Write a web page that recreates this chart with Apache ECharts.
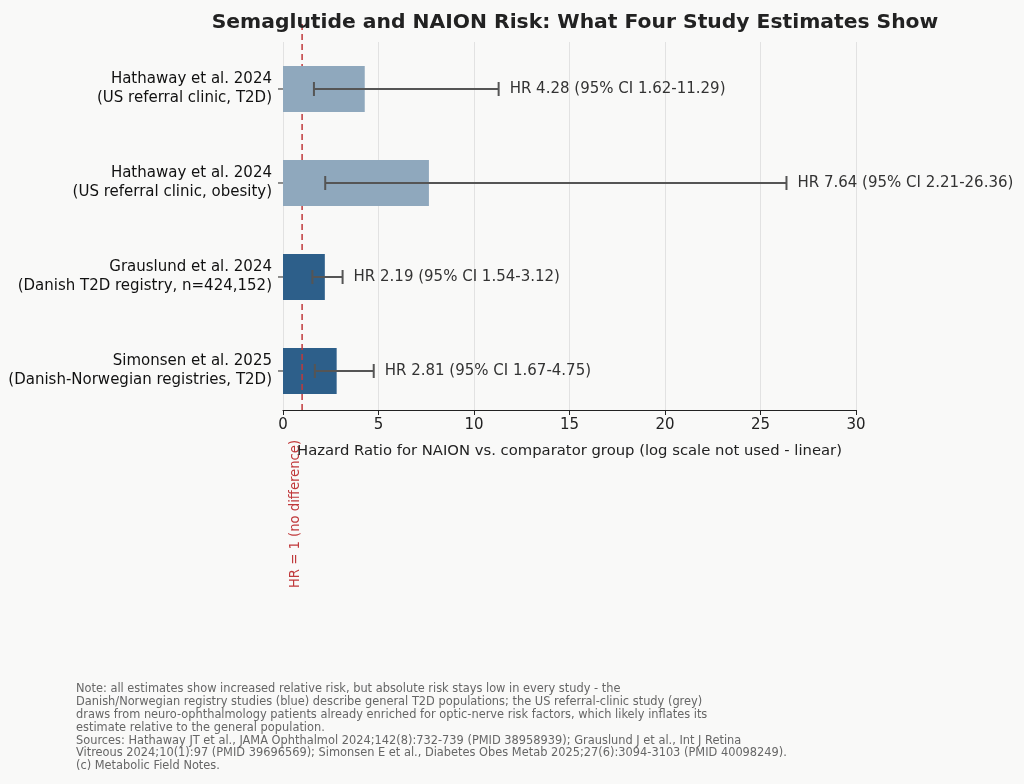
<!DOCTYPE html>
<html><head><meta charset="utf-8">
<script src="https://cdn.jsdelivr.net/npm/echarts@6/dist/echarts.min.js"></script>
<style>html,body{margin:0;background:#f9f9f8}#c{width:1024px;height:784px}</style>
</head><body><div id="c"></div>
<script>
const studies = ["Simonsen et al. 2025\n(Danish-Norwegian registries, T2D)","Grauslund et al. 2024\n(Danish T2D registry, n=424,152)","Hathaway et al. 2024\n(US referral clinic, obesity)","Hathaway et al. 2024\n(US referral clinic, T2D)"];
const hr = [2.81, 2.19, 7.64, 4.28];
const lower = [1.67, 1.54, 2.21, 1.62];
const upper = [4.75, 3.12, 26.36, 11.29];
const isRegistry = [true, true, false, false];
const xTicks = [0,5,10,15,20,25,30];

const chart = echarts.init(document.getElementById('c'));
const data = hr.map((v,i)=>[i, v, lower[i], upper[i], isRegistry[i]?1:0]);
chart.setOption({
  backgroundColor:'#f9f9f8',
  animation:false,
  title:{text:'Semaglutide and NAION Risk: What Four Study Estimates Show',left:570,textAlign:'center',top:8,
    textStyle:{fontSize:20.3,fontWeight:'bold',color:'#222',fontFamily:'DejaVu Sans'}},
  grid:{left:283,right:168,top:42,height:368},
  xAxis:{type:'value',min:0,max:30,interval:5,
    axisLine:{show:true,onZero:false,lineStyle:{color:'#222'}},axisTick:{show:true,length:5,lineStyle:{color:'#222'}},
    axisLabel:{fontSize:15,color:'#222',fontFamily:'DejaVu Sans',margin:8},
    splitLine:{show:true,lineStyle:{color:'#e2e2e2'}},
    name:'Hazard Ratio for NAION vs. comparator group (log scale not used - linear)',nameLocation:'middle',nameGap:34,
    nameTextStyle:{fontSize:14.8,color:'#222',fontFamily:'DejaVu Sans'}},
  yAxis:{type:'value',min:-0.415,max:3.5,splitLine:{show:false},axisLine:{show:false},axisTick:{show:false},axisLabel:{show:false}},
  series:[{
    type:'custom',clip:false,data:data,
    renderItem:function(params,api){
      const i=api.value(0), v=api.value(1), lo=api.value(2), up=api.value(3), reg=api.value(4);
      const p0=api.coord([0,i]), pv=api.coord([v,i]), pl=api.coord([lo,i]), pu=api.coord([up,i]);
      const h=46, cap=7;
      const ch=[
        {type:'rect',shape:{x:p0[0],y:p0[1]-h/2,width:pv[0]-p0[0],height:h},style:{fill:reg?'#2d5f8a':'#8fa8bd'}},
        {type:'line',shape:{x1:pl[0],y1:pl[1],x2:pu[0],y2:pu[1]},style:{stroke:'#555',lineWidth:2}},
        {type:'line',shape:{x1:pl[0],y1:pl[1]-cap,x2:pl[0],y2:pl[1]+cap},style:{stroke:'#555',lineWidth:2}},
        {type:'line',shape:{x1:pu[0],y1:pu[1]-cap,x2:pu[0],y2:pu[1]+cap},style:{stroke:'#555',lineWidth:2}},
        {type:'text',style:{x:pu[0]+11,y:pu[1],text:'HR '+v.toFixed(2)+' (95% CI '+lo.toFixed(2)+'-'+up.toFixed(2)+')',
          fill:'#333',fontSize:15,fontFamily:'DejaVu Sans',verticalAlign:'middle'}},
        {type:'line',shape:{x1:p0[0]-5,y1:p0[1],x2:p0[0],y2:p0[1]},style:{stroke:'#222',lineWidth:1}},
        {type:'text',style:{x:p0[0]-11,y:p0[1],text:studies[i],fill:'#111',fontSize:15,lineHeight:19,fontFamily:'DejaVu Sans',align:'right',verticalAlign:'middle'}}
      ];
      if(i===0){
        const a=api.coord([1,-0.415]), b=api.coord([1,3.73]);
        ch.push({type:'line',shape:{x1:a[0],y1:a[1],x2:b[0],y2:b[1]},style:{stroke:'#c0393b',lineWidth:1.5,lineDash:[6,4]}});
      }
      return {type:'group',children:ch};
    }
  }],
  graphic:[
    {type:'text',x:296,y:514,rotation:Math.PI/2,style:{text:'HR = 1 (no difference)',fill:'#c0393b',fontSize:13.2,fontFamily:'DejaVu Sans',align:'center',verticalAlign:'middle'}},
    {type:'text',left:76,top:683,style:{text:'Note: all estimates show increased relative risk, but absolute risk stays low in every study - the\nDanish/Norwegian registry studies (blue) describe general T2D populations; the US referral-clinic study (grey)\ndraws from neuro-ophthalmology patients already enriched for optic-nerve risk factors, which likely inflates its\nestimate relative to the general population.\nSources: Hathaway JT et al., JAMA Ophthalmol 2024;142(8):732-739 (PMID 38958939); Grauslund J et al., Int J Retina\nVitreous 2024;10(1):97 (PMID 39696569); Simonsen E et al., Diabetes Obes Metab 2025;27(6):3094-3103 (PMID 40098249).\n(c) Metabolic Field Notes.',
      fill:'#666',fontSize:11.4,lineHeight:12.8,fontFamily:'DejaVu Sans'}}
  ]
});
</script></body></html>
